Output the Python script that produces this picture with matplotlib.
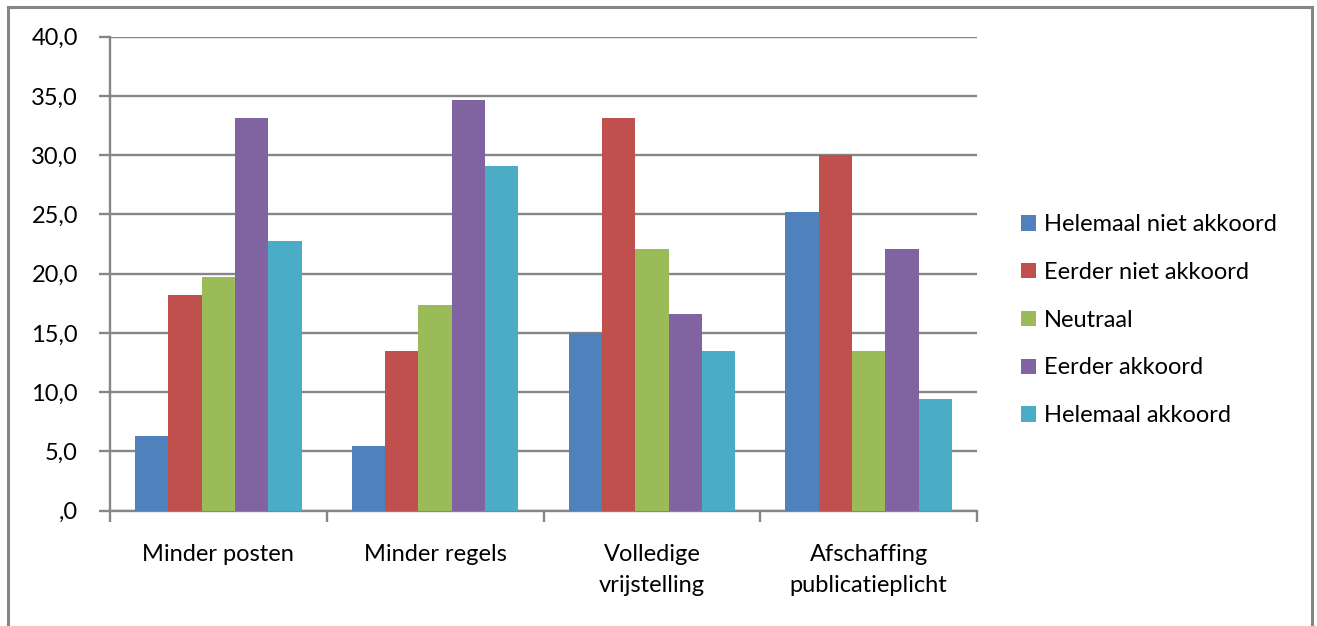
import matplotlib
matplotlib.use("Agg")
import matplotlib.pyplot as plt
import numpy as np
from matplotlib.patches import Rectangle, Patch
from matplotlib.ticker import FuncFormatter

plt.rcParams['font.family'] = ['Lato', 'DejaVu Sans']

# antwoorden per maatregel (%)
categorieen = ['Minder posten', 'Minder regels', 'Volledige\nvrijstelling',
               'Afschaffing\npublicatieplicht']
reeksen = ['Helemaal niet akkoord', 'Eerder niet akkoord', 'Neutraal',
           'Eerder akkoord', 'Helemaal akkoord']
helemaal_niet = [6.3, 5.5, 15.0, 25.2]
eerder_niet = [18.2, 13.5, 33.1, 30.0]
neutraal = [19.7, 17.4, 22.1, 13.5]
eerder_akkoord = [33.1, 34.7, 16.6, 22.1]
helemaal_akkoord = [22.8, 29.1, 13.5, 9.4]
kleuren = ['#4F81BD', '#C0504D', '#9BBB59', '#8064A2', '#4BACC6']

waarden = [helemaal_niet, eerder_niet, neutraal, eerder_akkoord, helemaal_akkoord]

W, H = 1317, 626
fig = plt.figure(figsize=(W / 100, H / 100), dpi=100)
ax = fig.add_axes([110 / W, 1 - 510.7 / H, 867 / W, 474 / H])

# gap width 150% zoals in Excel
breedte = 1 / 6.5
x = np.arange(len(categorieen))
for i, (vals, kl) in enumerate(zip(waarden, kleuren)):
    ax.bar(x - 2.5 * breedte + (i + 0.5) * breedte, vals, width=breedte,
           color=kl, zorder=3, linewidth=0)

grijs = '#868686'
ax.set_xlim(-0.5, len(categorieen) - 0.5)
ax.set_ylim(0, 40)
ax.set_yticks(np.arange(0, 41, 5))
ax.yaxis.set_major_formatter(FuncFormatter(
    lambda v, p: ',0' if v == 0 else f'{v:.1f}'.replace('.', ',')))
ax.grid(axis='y', color=grijs, linewidth=1.7, zorder=0)
for kant in ['top', 'right']:
    ax.spines[kant].set_visible(False)
for kant in ['left', 'bottom']:
    ax.spines[kant].set_color(grijs)
    ax.spines[kant].set_linewidth(1.7)

ax.set_xticks(x)
ax.set_xticklabels(categorieen, fontsize=17, linespacing=1.6)
ax.tick_params(axis='x', length=0, pad=24)
ax.set_xticks(np.arange(-0.5, len(categorieen)), minor=True)
ax.tick_params(axis='x', which='minor', length=8, width=1.7, color=grijs)
ax.tick_params(axis='y', length=8, width=1.7, color=grijs, labelsize=17, pad=15)

handles = [Patch(facecolor=k, edgecolor='none') for k in kleuren]
fig.legend(handles, reeksen, loc='upper left', bbox_to_anchor=(1012 / W, 1 - 205 / H),
           frameon=False, fontsize=17, handlelength=0.62, handleheight=0.62,
           handletextpad=0.35, labelspacing=1.13, borderaxespad=0)

# rand rond de grafiek
fig.patches.append(Rectangle((8 / W, -0.05), 1304 / W, 1.05 - 7 / H,
                             transform=fig.transFigure, fill=False,
                             edgecolor=grijs, linewidth=2.2))

plt.savefig('out.png', dpi=100)
